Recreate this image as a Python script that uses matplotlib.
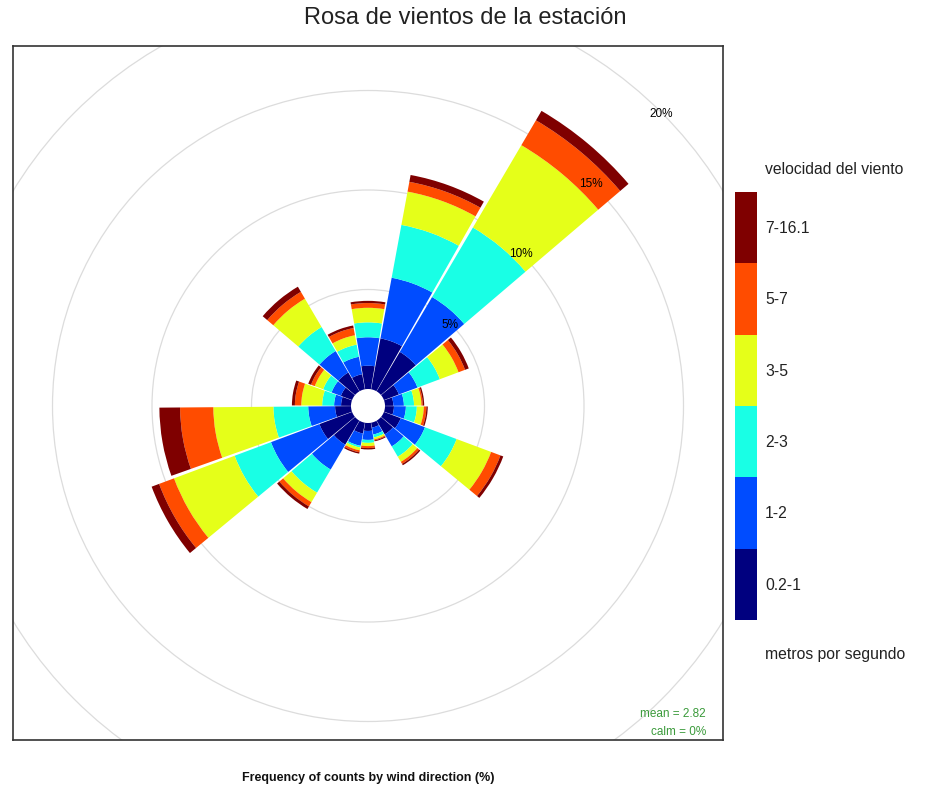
import math
import matplotlib
matplotlib.use("Agg")
import matplotlib.pyplot as plt
from matplotlib.patches import Wedge, Rectangle, Circle

# ---- data: frequency (%) of each speed class per 20-degree sector ----
directions = [20, 40, 60, 80, 100, 120, 140, 160, 180,
              200, 220, 240, 260, 280, 300, 320, 340, 360]
speed_labels = ["0.2-1", "1-2", "2-3", "3-5", "5-7", "7-16.1"]

freq_0_1 = [2.6, 2.3, 0.8, 0.42, 0.45, 0.9, 0.8, 0.25, 0.4,
            0.55, 1.4, 1.75, 0.8, 0.5, 0.6, 1.1, 0.77, 1.17]
freq_1_2 = [3.1, 3.2, 1.0, 0.53, 0.6, 1.3, 0.7, 0.35, 0.45,
            0.63, 1.45, 2.6, 1.35, 0.35, 0.5, 1.25, 0.89, 1.43]
freq_2_3 = [2.7, 4.05, 1.2, 0.51, 0.55, 1.7, 0.6, 0.15, 0.15,
            0.09, 1.35, 1.95, 1.75, 0.6, 0.45, 1.4, 0.62, 0.75]
freq_3_5 = [1.7, 4.8, 1.0, 0.37, 0.35, 1.85, 0.3, 0.1, 0.16,
            0.14, 0.55, 3.25, 3.02, 1.05, 0.45, 1.65, 0.48, 0.73]
freq_5_7 = [0.5, 1.45, 0.35, 0.07, 0.13, 0.5, 0.12, 0.05, 0.1,
            0.1, 0.25, 0.8, 1.67, 0.32, 0.2, 0.4, 0.37, 0.24]
freq_7_16 = [0.35, 0.55, 0.2, 0.07, 0.07, 0.15, 0.08, 0.05, 0.07,
             0.07, 0.15, 0.4, 1.04, 0.15, 0.15, 0.3, 0.13, 0.11]

ring_levels = [5, 10, 15, 20]
ring_labels = ["5%", "10%", "15%", "20%"]
mean_speed = 2.82
calm_pct = 0

speed_freqs = [freq_0_1, freq_1_2, freq_2_3, freq_3_5, freq_5_7, freq_7_16]
colours = ["#00007F", "#004CFF", "#19FFE5", "#E5FF19", "#FF4C00", "#7F0000"]

plt.rcParams["font.family"] = ["Liberation Sans", "DejaVu Sans"]

W, H = 930, 804
fig = plt.figure(figsize=(W / 100, H / 100), dpi=100)

# panel geometry (pixels)
left, top, right, bottom = 13, 47, 723, 741
cx, cy = 368, 407
px_per_pct = 19.9
hole = 17 / px_per_pct
sector = 20.0
half = sector / 2 - 0.45

ax = fig.add_axes([left / W, 1 - bottom / H, (right - left) / W, (bottom - top) / H])
ax.set_xlim((left - cx) / px_per_pct, (right - cx) / px_per_pct)
ax.set_ylim((cy - bottom) / px_per_pct, (cy - top) / px_per_pct)
ax.set_xticks([])
ax.set_yticks([])
for s in ax.spines.values():
    s.set_color("#333333")
    s.set_linewidth(1.2)

# reference circles
for lev in ring_levels + [25]:
    ax.add_patch(Circle((0, 0), hole + lev, fill=False, ec="#dcdcdc", lw=0.9, zorder=1))

# stacked sectors
for i, d in enumerate(directions):
    inner = 0.0
    for k, f in enumerate(speed_freqs):
        outer = inner + f[i]
        th1 = 90 - d - half
        th2 = 90 - d + half
        ax.add_patch(Wedge((0, 0), hole + outer, th1, th2, width=outer - inner,
                           fc=colours[k], ec="none", lw=0, zorder=2))
        inner = outer

# ring labels along the 45 degree line
for lev, lab in zip(ring_levels, ring_labels):
    r = hole + lev
    ax.text(r * math.sin(math.radians(45)), r * math.cos(math.radians(45)), lab,
            ha="center", va="center", fontsize=8.5, color="black", zorder=3)

mx = (706 - left) / (right - left)
ax.text(mx, (bottom - 714) / (bottom - top), f"mean = {mean_speed}", transform=ax.transAxes,
        ha="right", va="center", fontsize=8.5, color="#3A9A3A")
ax.text(mx, (bottom - 732) / (bottom - top), f"calm = {calm_pct}%", transform=ax.transAxes,
        ha="right", va="center", fontsize=8.5, color="#3A9A3A")

# colour key
kx0, kx1, ky0, ky1 = 735, 757, 193, 621
kax = fig.add_axes([kx0 / W, 1 - ky1 / H, (kx1 - kx0) / W, (ky1 - ky0) / H])
kax.set_xlim(0, 1)
kax.set_ylim(0, len(colours))
kax.axis("off")
for k, c in enumerate(colours):
    kax.add_patch(Rectangle((0, k), 1, 1, fc=c, ec="none"))
    fig.text(765 / W, 1 - (ky1 - (k + 0.5) * (ky1 - ky0) / len(colours)) / H,
             speed_labels[k], ha="left", va="center", fontsize=11.3, color="#222222")

fig.text(765 / W, 1 - 169 / H, "velocidad del viento", ha="left", va="center",
         fontsize=11.3, color="#222222")
fig.text(765 / W, 1 - 655 / H, "metros por segundo", ha="left", va="center",
         fontsize=11.3, color="#222222")

fig.text(0.5, 1 - 18 / H, "Rosa de vientos de la estación", ha="center", va="center",
         fontsize=17, color="#222222")
fig.text(368 / W, 1 - 778 / H, "Frequency of counts by wind direction (%)", ha="center",
         va="center", fontsize=9, fontweight="bold", color="#111111")

fig.savefig("out.png", dpi=100)
